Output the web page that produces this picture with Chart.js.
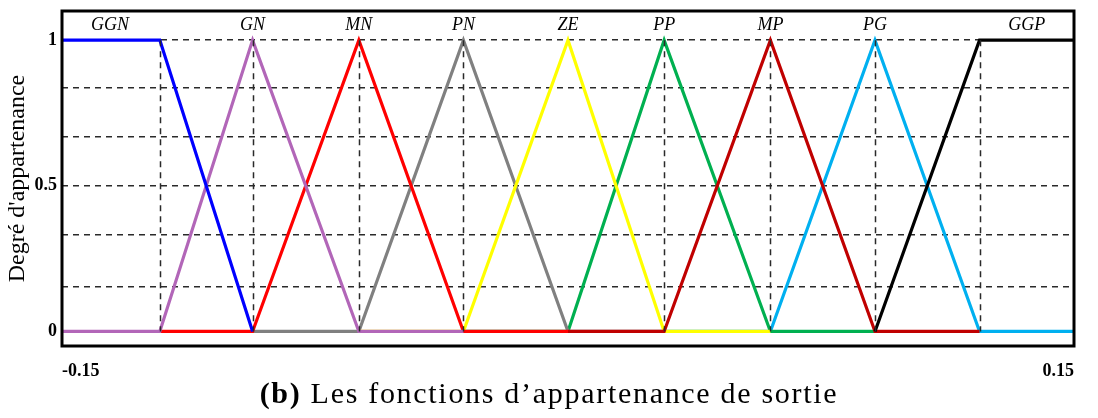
<!DOCTYPE html>
<html>
<head>
<meta charset="utf-8">
<script src="https://cdn.jsdelivr.net/npm/chart.js@4/dist/chart.umd.min.js"></script>
<style>
  body { margin: 0; background: #fff; }
  #wrap { position: relative; width: 1098px; height: 418px; }
  #caption {
    position: absolute; left: 0; width: 1098px; top: 376px;
    text-align: center; font-family: 'Liberation Serif', serif; font-size: 30px;
    letter-spacing: 1.7px; color: #000;
  }
</style>
</head>
<body>
<div id="wrap">
  <canvas id="mf" width="1098" height="418"></canvas>
  <div id="caption"><b>(b)</b> Les fonctions d’appartenance de sortie</div>
</div>
<script>
// sets of the output variable, their peak positions and label positions
const setNames = ['GGN', 'GN', 'MN', 'PN', 'ZE', 'PP', 'MP', 'PG', 'GGP'];
const labelX = [-0.1358, -0.0935, -0.062, -0.031, 0, 0.0285, 0.06, 0.091, 0.136];
const setColors = ['#0000ff', '#b266b8', '#ff0000', '#808080', '#ffff00', '#00b050', '#c00000', '#00b0f0', '#000000'];
// drawing order, lower = on top
const setOrder = [0, 2, 3, 6, 5, 7, 4, 8, 1];

// membership function breakpoints
const ggnX = [-0.15, -0.121, -0.0935];            const ggnY = [1, 1, 0];
const gnX = [-0.15, -0.121, -0.0935, -0.062, -0.031]; const gnY = [0, 0, 1, 0, 0];
const mnX = [-0.121, -0.0935, -0.062, -0.031, 0];    const mnY = [0, 0, 1, 0, 0];
const pnX = [-0.0935, -0.062, -0.031, 0, 0.0285];    const pnY = [0, 0, 1, 0, 0];
const zeX = [-0.062, -0.031, 0, 0.0285, 0.06];       const zeY = [0, 0, 1, 0, 0];
const ppX = [-0.031, 0, 0.0285, 0.06, 0.091];        const ppY = [0, 0, 1, 0, 0];
const mpX = [0, 0.0285, 0.06, 0.091, 0.122];         const mpY = [0, 0, 1, 0, 0];
const pgX = [0.0285, 0.06, 0.091, 0.122, 0.15];      const pgY = [0, 0, 1, 0, 0];
const ggpX = [0.091, 0.122, 0.15];                   const ggpY = [0, 1, 1];

const seriesX = [ggnX, gnX, mnX, pnX, zeX, ppX, mpX, pgX, ggpX];
const seriesY = [ggnY, gnY, mnY, pnY, zeY, ppY, mpY, pgY, ggpY];

// dashed guides
const vertX = [-0.121, -0.0935, -0.062, -0.031, 0.0285, 0.06, 0.091, 0.122];
const yGrid = [0, 0.155, 0.333, 0.5, 0.667, 0.835, 1];
const yLabels = ['0', '0.5', '1'];
const xTicks = [-0.15, 0.15];

const datasets = setNames.map((name, i) => ({
  label: name,
  data: seriesX[i].map((x, j) => ({ x: x, y: seriesY[i][j] })),
  borderColor: setColors[i],
  borderWidth: 3.2,
  pointRadius: 0,
  tension: 0,
  order: setOrder[i]
}));

const guides = {
  id: 'guides',
  afterDatasetsDraw(chart) {
    const ctx = chart.ctx;
    const xs = chart.scales.x, ys = chart.scales.y;
    ctx.save();
    ctx.strokeStyle = '#2a2a2a';
    ctx.lineWidth = 1.5;
    ctx.setLineDash([6, 5]);
    vertX.forEach(v => {
      const px = Math.round(xs.getPixelForValue(v)) + 0.5;
      ctx.beginPath();
      ctx.moveTo(px, ys.getPixelForValue(1));
      ctx.lineTo(px, ys.getPixelForValue(0));
      ctx.stroke();
    });
    ctx.restore();
  },
  afterDraw(chart) {
    const ctx = chart.ctx;
    const a = chart.chartArea;
    const xs = chart.scales.x, ys = chart.scales.y;
    ctx.save();
    ctx.strokeStyle = '#000';
    ctx.lineWidth = 3;
    ctx.strokeRect(a.left, a.top, a.right - a.left, a.bottom - a.top);
    // set names above the peaks
    ctx.fillStyle = '#000';
    ctx.font = 'italic 18px "Liberation Serif"';
    ctx.textAlign = 'center';
    ctx.textBaseline = 'middle';
    setNames.forEach((n, i) => {
      ctx.fillText(n, xs.getPixelForValue(labelX[i]), ys.getPixelForValue(1.05));
    });
    ctx.restore();
  }
};

new Chart(document.getElementById('mf'), {
  type: 'line',
  data: { datasets: datasets },
  options: {
    responsive: false,
    animation: false,
    devicePixelRatio: 1,
    layout: { padding: { top: 11, right: 24, left: 0, bottom: 0 } },
    plugins: { legend: { display: false }, tooltip: { enabled: false } },
    scales: {
      x: {
        type: 'linear',
        min: -0.15,
        max: 0.15,
        afterBuildTicks: s => { s.ticks = xTicks.map(v => ({ value: v })); },
        afterFit: s => { s.height = 72; s.paddingLeft = 0; s.paddingRight = 0; },
        grid: { display: false, drawTicks: false },
        border: { display: false },
        ticks: {
          align: 'inner',
          padding: 15,
          color: '#000',
          font: { family: 'Liberation Serif', weight: 'bold', size: 18 },
          callback: v => String(v)
        }
      },
      y: {
        type: 'linear',
        min: -0.05,
        max: 1.1,
        afterBuildTicks: s => { s.ticks = yGrid.map(v => ({ value: v })); },
        afterFit: s => { s.width = 62; s.paddingTop = 0; s.paddingBottom = 0; },
        grid: { color: '#2a2a2a', lineWidth: 1.5, drawTicks: false },
        border: { display: false, dash: [6, 5] },
        ticks: {
          padding: 5,
          color: '#000',
          font: { family: 'Liberation Serif', weight: 'bold', size: 18 },
          callback: v => yLabels.includes(String(v)) ? String(v) : ''
        },
        title: {
          display: true,
          text: 'Degré d\'appartenance',
          color: '#000',
          padding: { top: 3, bottom: 0 },
          font: { family: 'Liberation Serif', size: 24 }
        }
      }
    }
  },
  plugins: [guides]
});
</script>
</body>
</html>
